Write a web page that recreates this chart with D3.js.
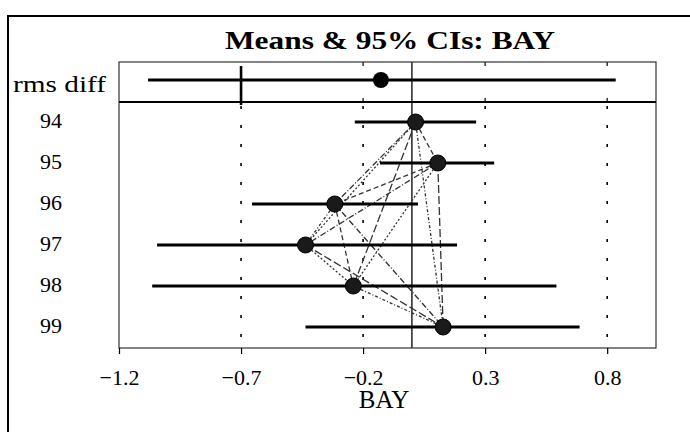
<!DOCTYPE html>
<html>
<head>
<meta charset="utf-8">
<script src="https://cdn.jsdelivr.net/npm/d3@7"></script>
<style>
  html, body { margin: 0; padding: 0; background: #fff; }
  svg { display: block; }
  text { font-family: "Liberation Serif", "Times New Roman", serif; fill: #000; }
</style>
</head>
<body>
<svg id="chart" width="690" height="432"></svg>
<script>
// Yearly means of BAY with 95% confidence intervals
const years = ["94", "95", "96", "97", "98", "99"];
const means = [0.015, 0.106, -0.316, -0.436, -0.240, 0.128];
const lows  = [-0.234, -0.131, -0.655, -1.044, -1.064, -0.436];
const highs = [0.263, 0.337, 0.025, 0.185, 0.592, 0.687];

// Root-mean-square difference row
const rmsLabel = "rms diff";
const rmsMean = -0.127;
const rmsLow = -1.081;
const rmsHigh = 0.835;
const rmsRef = -0.7;

const xTicks = [-1.2, -0.7, -0.2, 0.3, 0.8];
const gridValues = [-0.7, -0.2, 0.3, 0.8];
const xDomain = [-1.2, 1.0];
const titleText = "Means & 95% CIs: BAY";
const xLabel = "BAY";

const svg = d3.select("#chart");

const plotLeft = 119, plotRight = 656, plotTop = 62, divY = 102, plotBottom = 348;
const x = d3.scaleLinear().domain(xDomain).range([plotLeft, plotRight]);
const y = d3.scalePoint().domain(years).range([122, 327]);
const rmsY = 80;

// outer frame
svg.append("path")
  .attr("d", `M8,432V16H690`)
  .attr("fill", "none").attr("stroke", "#000").attr("stroke-width", 2);

// title
svg.append("text")
  .attr("x", 390).attr("y", 49)
  .attr("text-anchor", "middle")
  .attr("font-size", 25).attr("font-weight", "bold")
  .attr("textLength", 330).attr("lengthAdjust", "spacingAndGlyphs")
  .text(titleText);

// dotted reference lines in the lower panel
svg.append("g").selectAll("line").data(gridValues).join("line")
  .attr("x1", d => x(d)).attr("x2", d => x(d))
  .attr("y1", divY + 4).attr("y2", plotBottom)
  .attr("stroke", "#000").attr("stroke-width", 1.6)
  .attr("stroke-dasharray", "3,16");

// small inner ticks on the rms panel
const rmsTicks = svg.append("g");
gridValues.filter(d => d !== rmsRef).forEach(d => {
  rmsTicks.append("line").attr("x1", x(d)).attr("x2", x(d))
    .attr("y1", plotTop).attr("y2", plotTop + 4).attr("stroke", "#000").attr("stroke-width", 1.2);
  rmsTicks.append("line").attr("x1", x(d)).attr("x2", x(d))
    .attr("y1", divY - 4).attr("y2", divY).attr("stroke", "#000").attr("stroke-width", 1.2);
});

// solid zero line through both panels
svg.append("line")
  .attr("x1", x(0)).attr("x2", x(0))
  .attr("y1", plotTop).attr("y2", plotBottom)
  .attr("stroke", "#000").attr("stroke-width", 1.3);

// pairwise connections between the yearly means
const pairs = [];
for (let i = 0; i < years.length; i++)
  for (let j = i + 1; j < years.length; j++) pairs.push([i, j]);
const dashes = ["5,3", "6,2,1,2", "2,2", "8,3", "3,2,1,2"];
svg.append("g").selectAll("line").data(pairs).join("line")
  .attr("x1", d => x(means[d[0]])).attr("y1", d => y(years[d[0]]))
  .attr("x2", d => x(means[d[1]])).attr("y2", d => y(years[d[1]]))
  .attr("stroke", "#333").attr("stroke-width", 1.3)
  .attr("stroke-dasharray", (d, i) => dashes[i % dashes.length]);

// confidence intervals
svg.append("g").selectAll("line").data(years).join("line")
  .attr("x1", (d, i) => x(lows[i])).attr("x2", (d, i) => x(highs[i]))
  .attr("y1", d => y(d)).attr("y2", d => y(d))
  .attr("stroke", "#000").attr("stroke-width", 3.2);

// means
svg.append("g").selectAll("circle").data(years).join("circle")
  .attr("cx", (d, i) => x(means[i])).attr("cy", d => y(d))
  .attr("r", 8).attr("fill", "#1a1a1a").attr("stroke", "#000").attr("stroke-width", 1);

// rms row
svg.append("line")
  .attr("x1", x(rmsLow)).attr("x2", x(rmsHigh))
  .attr("y1", rmsY).attr("y2", rmsY)
  .attr("stroke", "#000").attr("stroke-width", 3.2);
svg.append("line")
  .attr("x1", x(rmsRef)).attr("x2", x(rmsRef))
  .attr("y1", plotTop + 4).attr("y2", divY + 3)
  .attr("stroke", "#000").attr("stroke-width", 2.6);
svg.append("circle")
  .attr("cx", x(rmsMean)).attr("cy", rmsY)
  .attr("r", 8).attr("fill", "#000");

// panel frames
svg.append("rect")
  .attr("x", plotLeft).attr("y", plotTop)
  .attr("width", plotRight - plotLeft).attr("height", plotBottom - plotTop)
  .attr("fill", "none").attr("stroke", "#333").attr("stroke-width", 1.2);
svg.append("line")
  .attr("x1", plotLeft).attr("x2", plotRight)
  .attr("y1", divY).attr("y2", divY)
  .attr("stroke", "#000").attr("stroke-width", 1.8);

// x axis
const xAxis = svg.append("g")
  .attr("transform", `translate(0,${plotBottom})`)
  .call(d3.axisBottom(x).tickValues(xTicks).tickFormat(d3.format(".1f"))
    .tickSize(6).tickSizeOuter(0).tickPadding(15));
xAxis.select(".domain").remove();
xAxis.selectAll(".tick line").attr("stroke", "#000").attr("stroke-width", 1.2);
xAxis.selectAll(".tick text")
  .attr("font-family", "Liberation Serif, Times New Roman, serif")
  .attr("font-size", 22).attr("fill", "#000");

svg.append("text")
  .attr("x", 384).attr("y", 408)
  .attr("text-anchor", "middle").attr("font-size", 25)
  .text(xLabel);

// year labels
const yAxis = svg.append("g")
  .attr("transform", `translate(${plotLeft},0)`)
  .call(d3.axisLeft(y).tickSize(0).tickPadding(57));
yAxis.select(".domain").remove();
yAxis.selectAll(".tick text")
  .attr("font-family", "Liberation Serif, Times New Roman, serif")
  .attr("font-size", 22).attr("fill", "#000")
  .attr("y", -2);

svg.append("text")
  .attr("x", 106).attr("y", 92)
  .attr("text-anchor", "end").attr("font-size", 24)
  .attr("textLength", 93).attr("lengthAdjust", "spacingAndGlyphs")
  .text(rmsLabel);
</script>
</body>
</html>
